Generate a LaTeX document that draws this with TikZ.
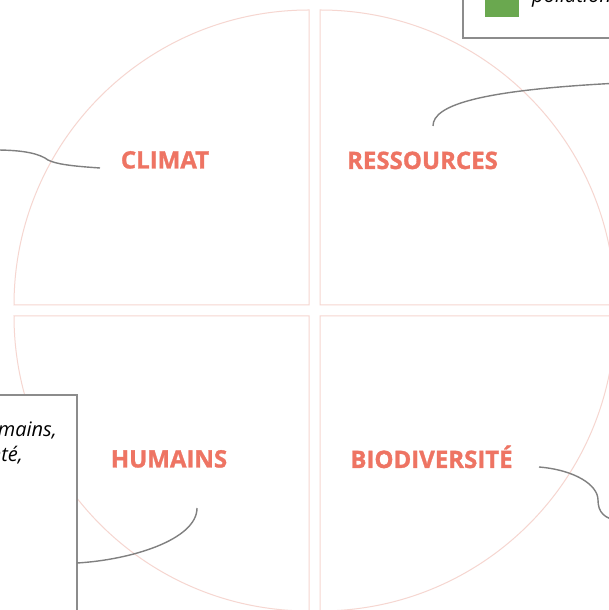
\documentclass[tikz,border=0pt]{standalone}
\usepackage{fontspec}
\setmainfont{Open Sans}
\newfontfamily\labfont{Open Sans}[UprightFont=* Bold, UprightFeatures={FakeBold=1.2}]
\definecolor{salmon}{RGB}{238,116,99}
\definecolor{quadline}{RGB}{246,214,208}
\definecolor{conn}{RGB}{128,128,128}
\definecolor{boxline}{RGB}{140,140,140}
\definecolor{leafgreen}{RGB}{106,168,79}
\begin{document}
\begin{tikzpicture}[x=1pt,y=1pt,
  quad/.style={draw=quadline,line width=1pt,fill=white},
  lab/.style={text=salmon,font=\labfont\fontsize{24}{28}\selectfont,anchor=base,inner sep=0pt},
  connector/.style={draw=conn,line width=1.4pt},
  infobox/.style={draw=boxline,line width=1.4pt,fill=white},
  boxtext/.style={font=\fontsize{20}{26}\selectfont\itshape,inner sep=0pt}]
\useasboundingbox (0,0) rectangle (609,610);
\clip (0,0) rectangle (609,610);
\fill[white] (0,0) rectangle (609,610);
% quadrants
\path[quad] (309,305) -- ++(-295,0) arc[start angle=180,end angle=90,radius=295] -- cycle;
\path[quad] (320,305) -- ++(0,295) arc[start angle=90,end angle=0,radius=295] -- cycle;
\path[quad] (309,294) -- ++(0,-295) arc[start angle=270,end angle=180,radius=295] -- cycle;
\path[quad] (320,294) -- ++(295,0) arc[start angle=0,end angle=-90,radius=295] -- cycle;
% labels
\node[lab] (climat) at (165,441.5) {CLIMAT};
\node[lab] (ress) at (422.5,441) {RESSOURCES};
\node[lab] (hum) at (169,142.5) {HUMAINS};
\node[lab] (bio) at (431.5,142) {BIODIVERSITÉ};
% boxes
\path[infobox] (463,572) rectangle (640,640);
\fill[leafgreen] (485,593) rectangle (519,640);
\node[boxtext,anchor=base west] (poll) at (532,607) {pollution};
\path[infobox] (-20,-20) rectangle (77,215);
\node[boxtext,anchor=base east] (l1) at (57,173) {humains,};
\node[boxtext,anchor=base east] (l2) at (23,148) {santé,};
% connector ends
\coordinate (c1s) at (100,442);
\coordinate (c1e) at (-5,460);
\coordinate (c2s) at (433,484);
\coordinate (c2e) at (620,527);
\coordinate (c3s) at (197,102);
\coordinate (c3e) at (77,47);
\coordinate (c4s) at (539,143);
\coordinate (c4e) at (620,89);
\draw[connector] (c1s) .. controls (70,444) and (56,446) .. (48,450) .. controls (40,456) and (25,460) .. (c1e);
\draw[connector] (c2s) .. controls (433,505) and (480,520) .. (c2e);
\draw[connector] (c3s) .. controls (197,70) and (130,50) .. (c3e);
\draw[connector] (c4s) .. controls (575,140) and (598,125) .. (598,110) .. controls (598,98) and (604,91) .. (c4e);
\end{tikzpicture}
\end{document}
